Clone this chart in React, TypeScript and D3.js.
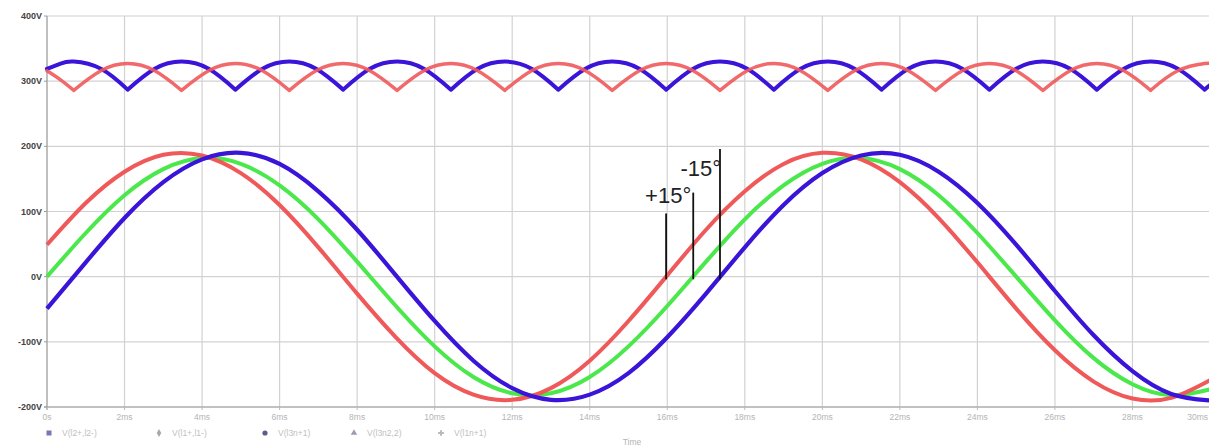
import React, { useRef, useEffect } from 'react';
import * as d3 from 'd3';

// --- data ---
const sineTimes = [0, 1, 2, 3, 4, 5, 6, 7, 8, 9, 10, 11, 12, 13, 14, 15, 16, 17, 18, 19, 20, 21, 22, 23, 24, 25, 26, 27, 28, 29, 30];
const greenSine = [0, 67, 125, 165, 182, 173, 140, 88, 23, -45, -107, -154, -179, -179, -154, -107, -45, 23, 88, 140, 173, 182, 165, 125, 67, 0, -67, -125, -165, -182, -173];
const redSine = [49, 113, 161, 187, 186, 159, 110, 45, -26, -93, -148, -181, -189, -171, -129, -68, 2, 72, 131, 173, 190, 180, 145, 90, 22, -49, -113, -161, -187, -186, -159];
const blueSine = [-49, 22, 90, 145, 180, 190, 173, 131, 72, 2, -68, -129, -171, -189, -181, -148, -93, -26, 45, 110, 159, 186, 187, 161, 113, 49, -22, -90, -145, -180, -190];

const rippleTimes = [0, 0.35, 0.69, 1.39, 2.08, 2.78, 3.47, 4.17, 4.86, 5.56, 6.25, 6.94, 7.64, 8.33, 9.03, 9.72, 10.42, 11.11, 11.81, 12.5, 13.19, 13.89, 14.58, 15.28, 15.97, 16.67, 17.36, 18.06, 18.75, 19.44, 20.14, 20.83, 21.53, 22.22, 22.92, 23.61, 24.31, 25.0, 25.69, 26.39, 27.08, 27.78, 28.47, 29.17, 29.86, 30];
const redRipple = [316, 302, 286, 316, 327, 316, 286, 316, 327, 316, 286, 316, 327, 316, 286, 316, 327, 316, 286, 316, 327, 316, 286, 316, 327, 316, 286, 316, 327, 316, 286, 316, 327, 316, 286, 316, 327, 316, 286, 316, 327, 316, 286, 316, 327, 327];
const blueRipple = [319, 327, 330, 319, 287, 319, 330, 319, 287, 319, 330, 319, 287, 319, 330, 319, 287, 319, 330, 319, 287, 319, 330, 319, 287, 319, 330, 319, 287, 319, 330, 319, 287, 319, 330, 319, 287, 319, 330, 319, 287, 319, 330, 319, 287, 294];

const xTicks = [0, 2, 4, 6, 8, 10, 12, 14, 16, 18, 20, 22, 24, 26, 28, 30];
const xTickLabels = ['0s', '2ms', '4ms', '6ms', '8ms', '10ms', '12ms', '14ms', '16ms', '18ms', '20ms', '22ms', '24ms', '26ms', '28ms', '30ms'];
const yTicks = [400, 300, 200, 100, 0, -100, -200];
const yTickLabels = ['400V', '300V', '200V', '100V', '0V', '-100V', '-200V'];

const legendNames = ['V(l2+,l2-)', 'V(l1+,l1-)', 'V(l3n+1)', 'V(l3n2,2)', 'V(l1n+1)'];
const legendSymbols = ['square', 'diamond', 'circle', 'triangle', 'cross'];

// phase markers: zero crossings of red, green, blue in the second cycle
const markerTimes = [15.97, 16.67, 17.36];
const markerTops = [97, 129, 196];
const markerLabels = ['+15°', '-15°'];

const RED = '#f0595a';
const BLUE = '#3a14d8';
const GREEN = '#4ae84a';

const App = () => {
  const svgRef = useRef<SVGSVGElement>(null);

  useEffect(() => {
    const width = 1209;
    const height = 448;
    const svg = d3.select(svgRef.current).attr('width', width).attr('height', height).html('');

    const x = d3.scaleLinear().domain([0, 30]).range([47, 1210]);
    const y = d3.scaleLinear().domain([-200, 400]).range([407, 16]);

    // --- grid ---
    const grid = svg.append('g');
    grid.selectAll('.vg').data(xTicks).enter().append('line')
      .attr('x1', d => x(d)).attr('x2', d => x(d))
      .attr('y1', y(400)).attr('y2', y(-200))
      .attr('stroke', '#d2d2d2').attr('stroke-width', 1.2);
    grid.selectAll('.hg').data(yTicks).enter().append('line')
      .attr('x1', x(0)).attr('x2', width)
      .attr('y1', d => y(d)).attr('y2', d => y(d))
      .attr('stroke', '#d2d2d2').attr('stroke-width', 1.2);

    // axes lines
    svg.append('line').attr('x1', x(0)).attr('x2', x(0)).attr('y1', y(400)).attr('y2', y(-200) + 3)
      .attr('stroke', '#9a9a9a');
    svg.append('line').attr('x1', x(0) - 3).attr('x2', width).attr('y1', y(-200)).attr('y2', y(-200))
      .attr('stroke', '#9a9a9a');

    // y labels
    svg.selectAll('.yl').data(yTicks).enter().append('text')
      .attr('x', x(0) - 5).attr('y', d => y(d) + 3)
      .attr('text-anchor', 'end')
      .attr('font-family', 'Arial, "Liberation Sans", sans-serif')
      .attr('font-size', 9).attr('font-weight', 'bold').attr('fill', '#444')
      .text((d, i) => yTickLabels[i]);
    svg.selectAll('.yt').data(yTicks).enter().append('line')
      .attr('x1', x(0) - 3).attr('x2', x(0)).attr('y1', d => y(d)).attr('y2', d => y(d))
      .attr('stroke', '#9a9a9a');

    // x labels
    svg.selectAll('.xt').data(xTicks).enter().append('line')
      .attr('x1', d => x(d)).attr('x2', d => x(d)).attr('y1', y(-200)).attr('y2', y(-200) + 3)
      .attr('stroke', '#bbb');
    svg.selectAll('.xl').data(xTicks).enter().append('text')
      .attr('x', (d, i) => (i === xTicks.length - 1 ? width - 1 : x(d)))
      .attr('y', 420)
      .attr('text-anchor', (d, i) => (i === xTicks.length - 1 ? 'end' : 'middle'))
      .attr('font-family', 'Arial, "Liberation Sans", sans-serif')
      .attr('font-size', 8.5).attr('fill', '#b4b4b4')
      .text((d, i) => xTickLabels[i]);

    svg.append('text').attr('x', 632).attr('y', 445).attr('text-anchor', 'middle')
      .attr('font-family', 'Arial, "Liberation Sans", sans-serif')
      .attr('font-size', 8.5).attr('fill', '#b4b4b4').text('Time');

    // legend
    const lx = [49, 159, 265, 354, 441];
    const leg = svg.append('g');
    legendNames.forEach((name, i) => {
      const cx = lx[i];
      const cy = 433;
      const sym = legendSymbols[i];
      const col = ['#7a74b8', '#a8a8a8', '#5c5c8c', '#9c9cb0', '#b8b8b8'][i];
      if (sym === 'square') leg.append('rect').attr('x', cx - 2.5).attr('y', cy - 2.5).attr('width', 5).attr('height', 5).attr('fill', col);
      else if (sym === 'circle') leg.append('circle').attr('cx', cx).attr('cy', cy).attr('r', 2.6).attr('fill', col);
      else {
        const t = sym === 'diamond' ? d3.symbolDiamond : sym === 'triangle' ? d3.symbolTriangle : d3.symbolCross;
        leg.append('path').attr('d', d3.symbol().type(t).size(18)).attr('transform', `translate(${cx},${cy})`).attr('fill', col);
      }
      leg.append('text').attr('x', cx + 13).attr('y', cy + 3)
        .attr('font-family', 'Arial, "Liberation Sans", sans-serif')
        .attr('font-size', 8.5).attr('fill', '#c0c0c0').text(name);
    });

    // --- sine curves ---
    const sineLine = d3.line<number>()
      .x((d, i) => x(sineTimes[i]))
      .y(d => y(d))
      .curve(d3.curveNatural);

    const plot = svg.append('g');
    plot.append('path').attr('d', sineLine(greenSine)).attr('fill', 'none').attr('stroke', GREEN).attr('stroke-width', 4);
    plot.append('path').attr('d', sineLine(redSine)).attr('fill', 'none').attr('stroke', RED).attr('stroke-width', 4);
    plot.append('path').attr('d', sineLine(blueSine)).attr('fill', 'none').attr('stroke', BLUE).attr('stroke-width', 4.2);

    // --- ripple: split into arcs at cusps (local minima) ---
    const rippleArcs = (vals: number[]) => {
      const arcs: [number, number][][] = [];
      let cur: [number, number][] = [];
      vals.forEach((v, i) => {
        cur.push([rippleTimes[i], v]);
        const isMin = i > 0 && i < vals.length - 1 && v < vals[i - 1] && v < vals[i + 1];
        if (isMin) {
          arcs.push(cur);
          cur = [[rippleTimes[i], v]];
        }
      });
      if (cur.length > 1) arcs.push(cur);
      const arcLine = d3.line<[number, number]>().x(d => x(d[0])).y(d => y(d[1])).curve(d3.curveNatural);
      return arcs.map(a => arcLine(a)).join('');
    };
    plot.append('path').attr('d', rippleArcs(blueRipple)).attr('fill', 'none').attr('stroke', BLUE)
      .attr('stroke-width', 4).attr('stroke-linejoin', 'round').attr('stroke-linecap', 'round');
    plot.append('path').attr('d', rippleArcs(redRipple)).attr('fill', 'none').attr('stroke', RED)
      .attr('stroke-width', 3.5).attr('stroke-opacity', 0.9).attr('stroke-linejoin', 'round').attr('stroke-linecap', 'round');

    // --- phase annotations ---
    const ann = svg.append('g');
    ann.selectAll('.mk').data(markerTimes).enter().append('line')
      .attr('x1', d => x(d)).attr('x2', d => x(d))
      .attr('y1', (d, i) => y(markerTops[i])).attr('y2', y(-4))
      .attr('stroke', '#111').attr('stroke-width', 1.8);
    ann.append('text').attr('x', x(markerTimes[1]) - 2).attr('y', 203).attr('text-anchor', 'end')
      .attr('font-family', 'Arial, "Liberation Sans", sans-serif').attr('font-size', 22).attr('fill', '#222')
      .text(markerLabels[0]);
    ann.append('text').attr('x', x(markerTimes[2]) + 1).attr('y', 176).attr('text-anchor', 'end')
      .attr('font-family', 'Arial, "Liberation Sans", sans-serif').attr('font-size', 22).attr('fill', '#222')
      .text(markerLabels[1]);
  }, []);

  return (
    <svg ref={svgRef} style={{ position: 'absolute', left: 0, top: 0, background: '#fff' }}></svg>
  );
};

export default App;
